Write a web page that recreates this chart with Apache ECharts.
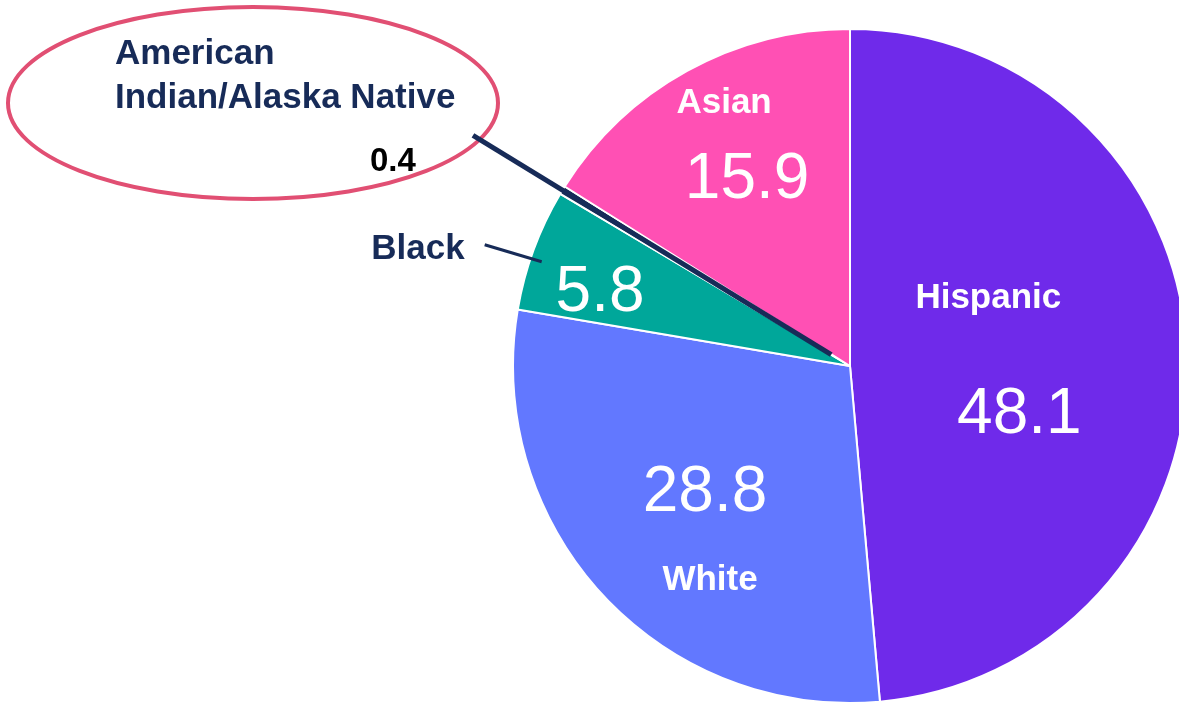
<!DOCTYPE html>
<html>
<head>
<meta charset="utf-8">
<style>
  html, body { margin: 0; background: #fff; }
  #main { width: 1179px; height: 706px; }
</style>
<script src="https://cdn.jsdelivr.net/npm/echarts@6/dist/echarts.min.js"></script>
</head>
<body>
<div id="main"></div>
<script>
const categories = ['Hispanic', 'White', 'Black', 'American Indian/Alaska Native', 'Asian']
const values = [48.1, 28.8, 5.8, 0.4, 15.9]
const colors = ['#6f2aea', '#6278ff', '#00a79a', '#1b2d58', '#ff50b4']

const navy = '#172b58'
const font = 'Liberation Sans, Arial, sans-serif'
const CX = 850
const CY = 366
const R = 337

// nudges of the inside labels from the default spot, by data index
const valueShift = { 0: [-2, 57], 1: [-19, 11], 2: [-89, -13], 4: [-20, -36] }
const nameShift = { 0: [-33, -60], 1: [-14, 98], 4: [-43, -113] }

// unit vector to the middle of slice i (clockwise from 12 o'clock)
const midDir = (i) => {
  const total = values.reduce((a, b) => a + b, 0)
  const before = values.slice(0, i).reduce((a, b) => a + b, 0)
  const ang = (before + values[i] / 2) / total * 2 * Math.PI
  return [Math.sin(ang), -Math.cos(ang)]
}

const chart = echarts.init(document.getElementById('main'))

const option = {
  animation: false,
  graphic: [
    {
      type: 'ellipse',
      shape: { cx: 253, cy: 103, rx: 245, ry: 96 },
      style: { fill: 'none', stroke: '#e14f73', lineWidth: 4 },
      z: 0
    }
  ],
  series: [
    {
      // slices + values
      type: 'pie',
      z: 2,
      center: [CX, CY],
      radius: [0, R],
      startAngle: 90,
      avoidLabelOverlap: false,
      emphasis: { disabled: true },
      silent: true,
      itemStyle: { borderColor: '#fff', borderWidth: 2 },
      data: categories.map((name, i) => ({
        name,
        value: values[i],
        itemStyle: { color: colors[i] },
        label: { show: i !== 3 }
      })),
      label: {
        position: 'inside',
        color: '#fff',
        fontSize: 64,
        fontFamily: font,
        formatter: (p) => String(p.value)
      },
      labelLine: { show: false },
      labelLayout: (p) => {
        const s = valueShift[p.dataIndex]
        return s ? { dx: s[0], dy: s[1] } : {}
      }
    },
    {
      // names and leader lines, drawn over the slices
      type: 'pie',
      z: 4,
      center: [CX, CY],
      radius: [0, R],
      startAngle: 90,
      avoidLabelOverlap: false,
      emphasis: { disabled: true },
      silent: true,
      itemStyle: { color: 'rgba(0,0,0,0)', borderWidth: 0 },
      data: categories.map((name, i) => {
        const outside = i === 2 || i === 3
        return {
          name,
          value: values[i],
          label: outside ? { position: 'outside', color: navy } : { position: 'inside' },
          labelLine: {
            show: outside,
            lineStyle: { color: navy, width: i === 3 ? 5 : 3 }
          }
        }
      }),
      label: {
        color: '#fff',
        fontSize: 35,
        fontWeight: 'bold',
        fontFamily: font,
        formatter: (p) => {
          if (p.dataIndex === 3) {
            return '{n|' + p.name.replace(' ', '\n') + '}\n{v|' + p.value + '}'
          }
          return p.name
        },
        rich: {
          n: { color: navy, fontSize: 35, fontWeight: 'bold', fontFamily: font, lineHeight: 44 },
          v: { color: '#000', fontSize: 33, fontWeight: 'bold', fontFamily: font, lineHeight: 84, padding: [0, 0, 0, 255] }
        }
      },
      labelLayout: (p) => {
        const i = p.dataIndex
        if (i === 3) {
          const d = midDir(3)
          return {
            x: 115, y: 32, align: 'left', verticalAlign: 'top',
            labelLinePoints: [
              [CX + d[0] * 22, CY + d[1] * 22],
              [CX + d[0] * (R + 105), CY + d[1] * (R + 105)]
            ]
          }
        }
        if (i === 2) {
          const d = midDir(2)
          const ax = CX + d[0] * R
          const ay = CY + d[1] * R
          return {
            x: ax - 69, y: ay, align: 'right', verticalAlign: 'middle',
            labelLinePoints: [[ax + 8, ay + 12], [ax - 49, ay - 5]]
          }
        }
        const s = nameShift[i]
        return s ? { dx: s[0], dy: s[1] } : {}
      }
    }
  ]
}

chart.setOption(option)

window.addEventListener('resize', () => chart.resize())
</script>
</body>
</html>
